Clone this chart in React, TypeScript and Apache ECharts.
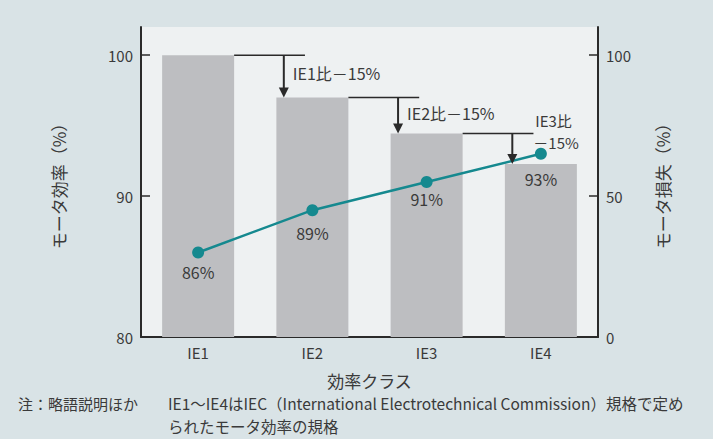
import React, { useEffect, useRef } from "react";
import * as echarts from "echarts";

const categories = ["IE1", "IE2", "IE3", "IE4"];
const efficiency = [86, 89, 91, 93];
const losses = [100, 85, 72.25, 61.4];
const effLabelDistance = [6, 9, 3, 11];
const leftTicks = [80, 90, 100];
const rightTicks = [0, 50, 100];
const reductionLabels = ["IE1比－15%", "IE2比－15%", "IE3比", "－15%"];
const noteHead = "注：略語説明ほか";
const noteLines = [
  "IE1〜IE4はIEC（International Electrotechnical Commission）規格で定め",
  "られたモータ効率の規格",
];

const FONT = '"Noto Sans CJK JP", "Noto Sans", sans-serif';
const TEXT = "#3a3a3a";

export default function App() {
  const ref = useRef<HTMLDivElement>(null);
  useEffect(() => {
    if (!ref.current) return;
    const chart = echarts.init(ref.current, null, { renderer: "svg" });
    chart.setOption({
      animation: false,
      backgroundColor: "#d9e3e6",
      textStyle: { fontFamily: FONT, color: TEXT },
      grid: {
        left: 141,
        right: 115,
        top: 27,
        bottom: 102,
        show: true,
        backgroundColor: "#eef1f2",
        borderWidth: 0,
      },
      xAxis: {
        type: "category",
        data: categories,
        boundaryGap: true,
        name: "効率クラス",
        nameLocation: "middle",
        nameGap: 35,
        nameTextStyle: { fontSize: 17, color: TEXT, fontFamily: FONT },
        axisLine: { lineStyle: { color: "#2a2a2a", width: 2 } },
        axisTick: { inside: true, length: 7, lineStyle: { color: "#2a2a2a", width: 1.5 } },
        axisLabel: { fontSize: 15, color: TEXT, margin: 8, fontFamily: FONT },
      },
      yAxis: [
        {
          type: "value",
          min: 80,
          max: 102,
          interval: 10,
          position: "left",
          name: "モータ効率（%）",
          nameLocation: "middle",
          nameRotate: 90,
          nameGap: 74,
          nameTextStyle: { fontSize: 17, color: TEXT, fontFamily: FONT },
          axisLine: { show: true, lineStyle: { color: "#2a2a2a", width: 2 } },
          axisTick: {
            show: true,
            inside: true,
            length: 9,
            customValues: [90, 100],
            lineStyle: { color: "#2a2a2a", width: 1.5 },
          },
          axisLabel: { fontSize: 15, color: TEXT, margin: 8, customValues: leftTicks, fontFamily: FONT },
          splitLine: { show: false },
        },
        {
          type: "value",
          min: 0,
          max: 110,
          interval: 50,
          position: "right",
          name: "モータ損失（%）",
          nameLocation: "middle",
          nameRotate: 90,
          nameGap: 56,
          nameTextStyle: { fontSize: 17, color: TEXT, fontFamily: FONT },
          axisLine: { show: true, lineStyle: { color: "#2a2a2a", width: 2 } },
          axisTick: {
            show: true,
            inside: true,
            length: 9,
            customValues: [50, 100],
            lineStyle: { color: "#2a2a2a", width: 1.5 },
          },
          axisLabel: { fontSize: 15, color: TEXT, margin: 8, customValues: rightTicks, fontFamily: FONT },
          splitLine: { show: false },
        },
      ],
      series: [
        {
          type: "bar",
          yAxisIndex: 1,
          data: losses,
          barWidth: 72,
          itemStyle: { color: "#bdbec1" },
          z: 1,
        },
        {
          type: "line",
          yAxisIndex: 0,
          data: efficiency.map((v, i) => ({
            value: v,
            label: { distance: effLabelDistance[i] },
          })),
          symbol: "circle",
          symbolSize: 12,
          lineStyle: { color: "#15898f", width: 2.5 },
          itemStyle: { color: "#15898f" },
          label: {
            show: true,
            position: "bottom",
            formatter: (p: any) => p.value + "%",
            fontSize: 16,
            color: TEXT,
            fontFamily: FONT,
          },
          z: 5,
        },
      ],
    });

    // annotations derived from the chart's scales
    const elements: any[] = [];
    const x0 = chart.convertToPixel({ xAxisIndex: 0 }, categories[0]) as number;
    const x1 = chart.convertToPixel({ xAxisIndex: 0 }, categories[1]) as number;
    const step = x1 - x0;
    const txt = (text: string, x: number, y: number, size: number) => ({
      type: "text",
      x,
      y,
      style: { text, fontSize: size, fontFamily: FONT, fill: TEXT, textVerticalAlign: "middle" },
      z: 10,
    });
    for (let i = 0; i < categories.length - 1; i++) {
      const cx = chart.convertToPixel({ xAxisIndex: 0 }, categories[i]) as number;
      const nx = chart.convertToPixel({ xAxisIndex: 0 }, categories[i + 1]) as number;
      const yTop = chart.convertToPixel({ yAxisIndex: 1 }, losses[i]) as number;
      const yBot = chart.convertToPixel({ yAxisIndex: 1 }, losses[i + 1]) as number;
      const lx0 = cx + 36;
      const lx1 = nx - 0.065 * step;
      const ax = nx - 0.25 * step;
      elements.push({
        type: "line",
        shape: { x1: lx0, y1: yTop, x2: lx1, y2: yTop },
        style: { stroke: "#2a2a2a", lineWidth: 1.5 },
        z: 10,
      });
      elements.push({
        type: "line",
        shape: { x1: ax, y1: yTop, x2: ax, y2: yBot - 9 },
        style: { stroke: "#2a2a2a", lineWidth: 2 },
        z: 10,
      });
      elements.push({
        type: "polygon",
        shape: { points: [[ax - 5, yBot - 10], [ax + 5, yBot - 10], [ax, yBot]] },
        style: { fill: "#2a2a2a" },
        z: 10,
      });
      if (i < categories.length - 2) {
        elements.push(txt(reductionLabels[i], ax + 9, yTop + 0.42 * (yBot - yTop), 16));
      } else {
        elements.push(txt(reductionLabels[2], ax + 23, yTop - 13, 15));
        elements.push(txt(reductionLabels[3], ax + 21, yTop + 9, 15));
      }
    }
    elements.push(txt(noteHead, 18, 403, 15));
    noteLines.forEach((t, i) => {
      elements.push(txt(t, 168, 403 + i * 23, 15.5));
    });
    chart.setOption({ graphic: { elements } });

    return () => chart.dispose();
  }, []);
  return (
    <div
      ref={ref}
      style={{ position: "fixed", left: 0, top: 0, width: 713, height: 439 }}
    />
  );
}
